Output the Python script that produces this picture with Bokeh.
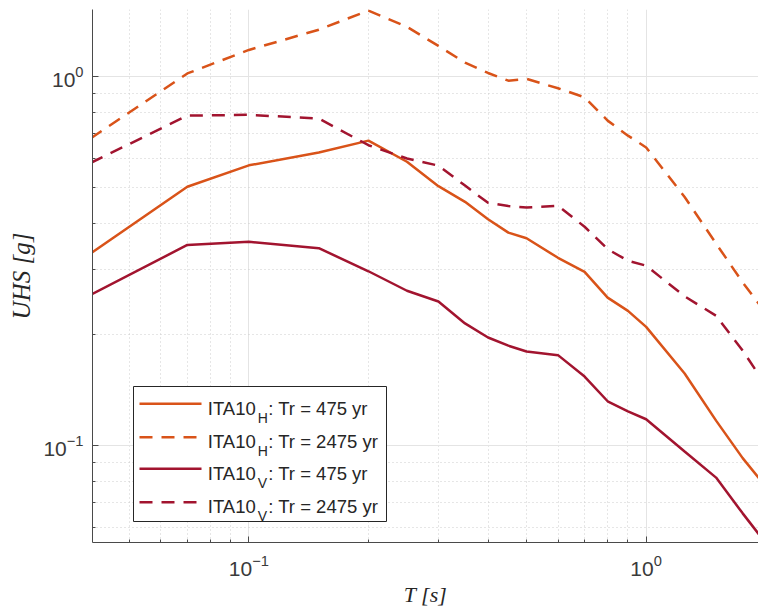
from bokeh.plotting import figure
from bokeh.models import Label, BoxAnnotation, Arrow, FixedTicker, LogTickFormatter
from bokeh.embed import file_html
from bokeh.resources import INLINE

# ---------------- data ----------------
periods = [0.04, 0.07, 0.1, 0.15, 0.2, 0.25, 0.3, 0.35, 0.4, 0.45, 0.5,
           0.6, 0.7, 0.8, 0.9, 1.0, 1.25, 1.5, 1.75, 2.0]

uhs_h_475 = [0.332, 0.503, 0.575, 0.623, 0.671, 0.588, 0.505, 0.458, 0.411, 0.378, 0.365,
             0.323, 0.296, 0.252, 0.232, 0.210, 0.157, 0.117, 0.0926, 0.0776]
uhs_h_2475 = [0.681, 1.02, 1.181, 1.34, 1.51, 1.364, 1.211, 1.091, 1.023, 0.975, 0.986,
              0.930, 0.879, 0.760, 0.692, 0.643, 0.472, 0.353, 0.277, 0.229]
uhs_v_475 = [0.2565, 0.350, 0.357, 0.343, 0.297, 0.263, 0.246, 0.2145, 0.1965, 0.1867, 0.180,
             0.176, 0.154, 0.132, 0.124, 0.118, 0.0965, 0.082, 0.0656, 0.0545]
uhs_v_2475 = [0.584, 0.784, 0.788, 0.770, 0.652, 0.600, 0.574, 0.507, 0.455, 0.446, 0.442,
              0.447, 0.392, 0.341, 0.317, 0.3075, 0.254, 0.225, 0.181, 0.146]

series = [uhs_h_475, uhs_h_2475, uhs_v_475, uhs_v_2475]
legend_base = ["ITA10", "ITA10", "ITA10", "ITA10"]
legend_sub = ["H", "H", "V", "V"]
legend_rest = [": Tr = 475 yr", ": Tr = 2475 yr", ": Tr = 475 yr", ": Tr = 2475 yr"]

x_label = "T [s]"
y_label = "UHS [g]"

# ---------------- styles ----------------
ORANGE = "#D95319"
DARKRED = "#A2142F"
colors = [ORANGE, ORANGE, DARKRED, DARKRED]
dashes = ["solid", "13 9", "solid", "13 9"]
AXIS = "#4a4a4a"
TEXT = "#262626"

p = figure(width=758, height=610,
           x_axis_type="log", y_axis_type="log",
           x_range=(0.0404, 1.918), y_range=(0.0547, 1.52),
           output_backend="svg", toolbar_location=None,
           min_border_left=92, min_border_right=0,
           min_border_top=9, min_border_bottom=68)
p.outline_line_color = None
p.background_fill_color = "white"
p.border_fill_color = "white"

for ys, c, d in zip(series, colors, dashes):
    p.line(periods, ys, line_color=c, line_width=2.5, line_dash=d)

decades = [0.01, 0.1, 1.0, 10.0]
minor = [m * d for d in decades for m in range(2, 10)]
for ax in (p.xaxis[0], p.yaxis[0]):
    ax.ticker = FixedTicker(ticks=decades, minor_ticks=minor)
    ax.formatter = LogTickFormatter()
    ax.axis_line_color = AXIS
    ax.axis_line_width = 1
    ax.major_tick_line_color = AXIS
    ax.minor_tick_line_color = AXIS
    ax.major_tick_in = 6
    ax.major_tick_out = 0
    ax.minor_tick_in = 3
    ax.minor_tick_out = 0
    ax.major_label_text_font = "Liberation Sans"
    ax.major_label_text_font_size = "21px"
    ax.major_label_text_color = "#3a3a3a"
    ax.axis_label_text_font = "Liberation Serif"
    ax.axis_label_text_font_style = "italic"
    ax.axis_label_text_color = TEXT

p.xaxis.axis_label = x_label
p.yaxis.axis_label = y_label
p.xaxis.axis_label_text_font_size = "22px"
p.yaxis.axis_label_text_font_size = "25px"
p.xaxis.major_label_standoff = 12
p.xaxis.axis_label_standoff = 3
p.yaxis.major_label_standoff = 9
p.yaxis.axis_label_standoff = 5

for g in (p.xgrid[0], p.ygrid[0]):
    g.grid_line_color = "#e4e4e4"
    g.grid_line_width = 1
    g.minor_grid_line_color = "#cdcdcd"
    g.minor_grid_line_width = 1
    g.minor_grid_line_dash = "1 3"

# ---------------- legend (screen units, origin = frame bottom-left) ----------------
box = BoxAnnotation(left=41, right=294, bottom=21, top=156,
                    left_units="screen", right_units="screen",
                    top_units="screen", bottom_units="screen",
                    fill_color="white", fill_alpha=1.0,
                    line_color=TEXT, line_width=1, line_alpha=1.0)
p.add_layout(box)

row_y = [138.7, 105.3, 73.7, 40.3]
for i in range(4):
    ry = row_y[i]
    p.add_layout(Arrow(start=None, end=None, x_start=47, y_start=ry, x_end=109, y_end=ry,
                       start_units="screen", end_units="screen",
                       line_color=colors[i], line_width=2.5, line_dash=dashes[i]))
    p.add_layout(Label(x=115.3, y=ry - 4.5, x_units="screen", y_units="screen",
                       text=legend_base[i], text_font="Liberation Sans",
                       text_font_size="18.5px", text_color=TEXT,
                       text_baseline="alphabetic", text_align="left"))
    p.add_layout(Label(x=165.3, y=ry - 13.8, x_units="screen", y_units="screen",
                       text=legend_sub[i], text_font="Liberation Sans",
                       text_font_size="14px", text_color=TEXT,
                       text_baseline="alphabetic", text_align="left"))
    p.add_layout(Label(x=175.8, y=ry - 4.5, x_units="screen", y_units="screen",
                       text=legend_rest[i], text_font="Liberation Sans",
                       text_font_size="18.5px", text_color=TEXT,
                       text_baseline="alphabetic", text_align="left"))

open("out.html", "w").write(file_html(p, INLINE))
